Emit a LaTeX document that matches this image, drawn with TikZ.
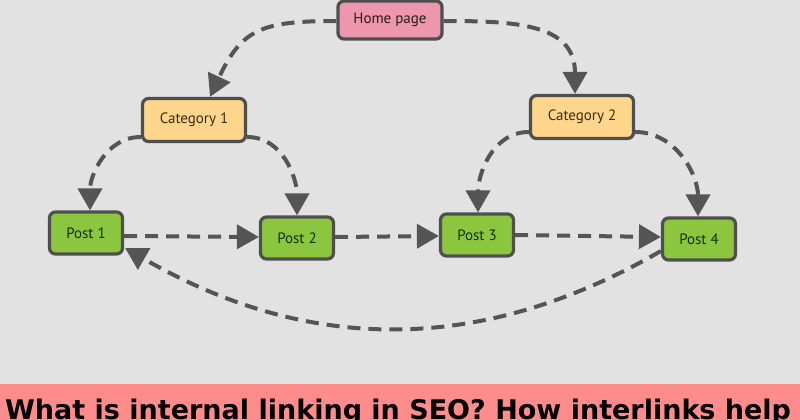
\documentclass[tikz,border=0pt]{standalone}
\usepackage{fontspec}
\setmainfont{PT Sans}
\newfontfamily\bannerfont{DejaVu Sans}
\usetikzlibrary{arrows.meta,calc}
\definecolor{bg}{HTML}{E2E2E2}
\definecolor{banner}{HTML}{FF8C8C}
\definecolor{edgegray}{HTML}{4F4F4F}
\definecolor{linegray}{HTML}{555555}
\definecolor{pinkfill}{HTML}{EE96AC}
\definecolor{yellowfill}{HTML}{FDD68C}
\definecolor{greenfill}{HTML}{8CC63F}
\definecolor{pinktext}{HTML}{2A1A20}
\definecolor{yellowtext}{HTML}{3A2B10}
\definecolor{greentext}{HTML}{12300A}
\tikzset{
  box/.style={draw=edgegray, line width=3.2pt, rounded corners=6pt, inner sep=0pt,
    font=\fontsize{15}{17}\selectfont},
  homebox/.style={box, fill=pinkfill, text=pinktext, minimum width=104pt, minimum height=38pt},
  catbox/.style={box, fill=yellowfill, text=yellowtext, minimum width=103pt, minimum height=43pt},
  postbox/.style={box, fill=greenfill, text=greentext, minimum width=73pt, minimum height=42pt},
  link/.style={draw=linegray, line width=4pt, dash pattern=on 13pt off 8pt,
    -{Triangle[length=22pt,width=24pt]}}
}
\begin{document}
\begin{tikzpicture}[x=1pt,y=-1pt]
  \fill[bg] (0,0) rectangle (800,420);
  \useasboundingbox (0,0) rectangle (800,420);
  \fill[banner] (0,384) rectangle (800,420);
  \node[anchor=base west, inner sep=0pt, font=\bannerfont\bfseries\fontsize{27}{30}\selectfont] (title) at (5,419) {What is internal linking in SEO? How interlinks help};

  \node[homebox] (home) at (390,20) {Home page};
  \node[catbox] (cat1) at (194,120) {Category 1};
  \node[catbox] (cat2) at (582,117) {Category 2};
  \node[postbox] (post1) at (86,233) {Post 1};
  \node[postbox] (post2) at (297,238) {Post 2};
  \node[postbox] (post3) at (477,235) {Post 3};
  \node[postbox] (post4) at (699,239) {Post 4};

  \draw[link] ($(home.west)+(0,1)$) to[out=180,in=65,looseness=1.3] ($(cat1.north)+(16,0)$);
  \draw[link] ($(home.east)+(0,1)$) to[out=0,in=90,looseness=1.2] ($(cat2.north)+(-7,0)$);
  \draw[link] ($(cat1.west)+(0,17)$) to[out=180,in=90] ($(post1.north)+(4,0)$);
  \draw[link] ($(cat1.east)+(0,17)$) to[out=0,in=90] (post2.north);
  \draw[link] ($(cat2.west)+(0,15)$) to[out=180,in=90] ($(post3.north)+(1,0)$);
  \draw[link] ($(cat2.east)+(0,15)$) to[out=0,in=90] ($(post4.north)+(-1,0)$);
  \draw[link] ($(post1.east)+(0,3)$) -- ($(post2.west)+(0,-1)$);
  \draw[link] ($(post2.east)+(0,-1)$) -- ($(post3.west)+(0,1)$);
  \draw[link] (post3.east) -- ($(post4.west)+(0,-2)$);
  \draw[link] ($(post4.west)+(0,12)$) to[out=210,in=-30] ($(post1.east)+(1,15)$);
\end{tikzpicture}
\end{document}
